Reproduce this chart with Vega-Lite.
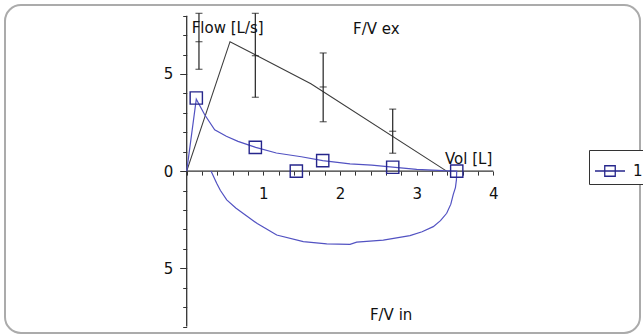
{
  "$schema": "https://vega.github.io/schema/vega-lite/v6.json",
  "width": 635,
  "height": 328,
  "autosize": {"type": "none"},
  "padding": {"left": 5, "top": 5, "right": 3, "bottom": 2},
  "background": "white",
  "config": {
    "view": {"stroke": "#ababab", "strokeWidth": 2, "cornerRadius": 16},
    "axis": {"grid": false, "domain": false, "title": null, "labelFont": "DejaVu Sans", "labelFontSize": 15, "labelColor": "#111111", "tickColor": "#333333", "tickWidth": 1, "labelOverlap": false, "labelBound": false, "labelFlush": false}
  },
  "datasets": {
    "axes": [
      {"x": 0, "x2": 4, "y": 0, "y2": 0},
      {"x": 0, "x2": 0, "y": -8, "y2": 8}
    ],
    "pred": [
      {"i": 0, "x": 0, "y": 0},
      {"i": 1, "x": 0.565, "y": 6.66},
      {"i": 2, "x": 1.62, "y": 4.5},
      {"i": 3, "x": 3.39, "y": 0}
    ],
    "err": [
      {"x": 0.16, "y": 5.24, "y2": 8.12},
      {"x": 0.895, "y": 3.8, "y2": 8.12},
      {"x": 1.78, "y": 2.54, "y2": 6.08},
      {"x": 2.687, "y": 0.92, "y2": 3.19}
    ],
    "errticks": [
      {"x": 0.16, "y": 5.24}, {"x": 0.16, "y": 6.66}, {"x": 0.16, "y": 8.12},
      {"x": 0.895, "y": 3.8}, {"x": 0.895, "y": 5.94}, {"x": 0.895, "y": 8.12},
      {"x": 1.78, "y": 2.54}, {"x": 1.78, "y": 4.33}, {"x": 1.78, "y": 6.08},
      {"x": 2.687, "y": 0.92}, {"x": 2.687, "y": 2.05}, {"x": 2.687, "y": 3.19}
    ],
    "flow": [
      {"i": 0, "x": 0, "y": 0},
      {"i": 1, "x": 0.125, "y": 3.7},
      {"i": 2, "x": 0.235, "y": 2.9},
      {"i": 3, "x": 0.365, "y": 2.13},
      {"i": 4, "x": 0.517, "y": 1.79},
      {"i": 5, "x": 0.669, "y": 1.53},
      {"i": 6, "x": 0.9, "y": 1.22},
      {"i": 7, "x": 1.169, "y": 0.93},
      {"i": 8, "x": 1.495, "y": 0.74},
      {"i": 9, "x": 1.774, "y": 0.54},
      {"i": 10, "x": 2.13, "y": 0.37},
      {"i": 11, "x": 2.413, "y": 0.31},
      {"i": 12, "x": 2.687, "y": 0.2},
      {"i": 13, "x": 3.0, "y": 0.09},
      {"i": 14, "x": 3.347, "y": 0.02},
      {"i": 15, "x": 3.522, "y": 0},
      {"i": 16, "x": 3.518, "y": -0.45},
      {"i": 17, "x": 3.505, "y": -0.85},
      {"i": 18, "x": 3.477, "y": -1.2},
      {"i": 19, "x": 3.445, "y": -1.7},
      {"i": 20, "x": 3.391, "y": -2.17},
      {"i": 21, "x": 3.31, "y": -2.55},
      {"i": 22, "x": 3.216, "y": -2.86},
      {"i": 23, "x": 3.07, "y": -3.12},
      {"i": 24, "x": 2.912, "y": -3.32},
      {"i": 25, "x": 2.564, "y": -3.55},
      {"i": 26, "x": 2.217, "y": -3.66},
      {"i": 27, "x": 2.13, "y": -3.77},
      {"i": 28, "x": 1.826, "y": -3.75},
      {"i": 29, "x": 1.521, "y": -3.63},
      {"i": 30, "x": 1.174, "y": -3.29},
      {"i": 31, "x": 1.064, "y": -3.03},
      {"i": 32, "x": 0.92, "y": -2.7},
      {"i": 33, "x": 0.783, "y": -2.31},
      {"i": 34, "x": 0.64, "y": -1.9},
      {"i": 35, "x": 0.522, "y": -1.48},
      {"i": 36, "x": 0.44, "y": -1.0},
      {"i": 37, "x": 0.391, "y": -0.63},
      {"i": 38, "x": 0.317, "y": 0}
    ],
    "markers": [
      {"series": "1", "x": 0.125, "y": 3.76},
      {"series": "1", "x": 0.895, "y": 1.22},
      {"series": "1", "x": 1.43, "y": 0},
      {"series": "1", "x": 1.774, "y": 0.54},
      {"series": "1", "x": 2.687, "y": 0.2},
      {"series": "1", "x": 3.522, "y": 0}
    ],
    "texts": [
      {"label": "Flow [L/s]", "x": 0.065, "y": 7.09},
      {"label": "F/V ex", "x": 2.17, "y": 7.06},
      {"label": "Vol [L]", "x": 3.369, "y": 0.365},
      {"label": "F/V in", "x": 2.39, "y": -7.66}
    ]
  },
  "encoding": {
    "x": {
      "field": "x", "type": "quantitative",
      "scale": {"domain": [-2.3699, 5.9124], "nice": false, "zero": false},
      "axis": {
        "orient": "bottom", "offset": -161.9,
        "values": [0, 0.2, 0.4, 0.6, 0.8, 1, 1.2, 1.4, 1.6, 1.8, 2, 2.2, 2.4, 2.6, 2.8, 3, 3.2, 3.4, 3.6, 3.8, 4],
        "tickSize": 4, "labelPadding": 11,
        "labelExpr": "(datum.value == 1 || datum.value == 2 || datum.value == 3 || datum.value == 4) ? format(datum.value, 'd') : ''"
      }
    },
    "y": {
      "field": "y", "type": "quantitative",
      "scale": {"domain": [-8.3325, 8.5486], "nice": false, "zero": false},
      "axis": {
        "orient": "left", "offset": -181.7,
        "values": [-8, -7, -6, -5, -4, -3, -2, -1, 0, 1, 2, 3, 4, 5, 6, 7, 8],
        "tickSize": {"condition": {"test": "datum.value == 5 || datum.value == -5 || datum.value == 0", "value": 7}, "value": 4},
        "labelPadding": 7,
        "labelExpr": "(datum.value == 5 || datum.value == -5 || datum.value == 0) ? format(abs(datum.value), 'd') : ''"
      }
    }
  },
  "layer": [
    {
      "data": {"name": "axes"},
      "mark": {"type": "rule", "color": "#333333", "strokeWidth": 1.3},
      "encoding": {"x2": {"field": "x2"}, "y2": {"field": "y2"}}
    },
    {
      "data": {"name": "pred"},
      "mark": {"type": "line", "color": "#3c3c3c", "strokeWidth": 1.1},
      "encoding": {"order": {"field": "i", "type": "quantitative"}}
    },
    {
      "data": {"name": "err"},
      "mark": {"type": "rule", "color": "#222222", "strokeWidth": 1.2},
      "encoding": {"y2": {"field": "y2"}}
    },
    {
      "data": {"name": "errticks"},
      "mark": {"type": "tick", "orient": "horizontal", "color": "#222222", "size": 7, "thickness": 1.2}
    },
    {
      "data": {"name": "flow"},
      "mark": {"type": "line", "color": "#5252c2", "strokeWidth": 1.2},
      "encoding": {"order": {"field": "i", "type": "quantitative"}}
    },
    {
      "data": {"name": "markers"},
      "mark": {"type": "point", "shape": "square", "filled": false, "size": 150, "strokeWidth": 1.4, "opacity": 1},
      "encoding": {
        "color": {
          "field": "series", "type": "nominal",
          "scale": {"range": ["#26268c"]},
          "legend": {
            "title": null, "orient": "none", "legendX": 584, "legendY": 145,
            "strokeColor": "#333333", "fillColor": "white", "padding": 5,
            "symbolType": "M-1,0L1,0M-0.35,-0.35L0.35,-0.35L0.35,0.35L-0.35,0.35Z",
            "symbolSize": 900, "symbolStrokeWidth": 1.3, "symbolFillColor": "transparent", "symbolStrokeColor": "#26268c",
            "labelFont": "DejaVu Sans", "labelFontSize": 15, "labelColor": "#111111", "labelOffset": 7
          }
        }
      }
    },
    {
      "data": {"name": "texts"},
      "mark": {"type": "text", "align": "left", "baseline": "alphabetic", "font": "DejaVu Sans", "fontSize": 15, "color": "#111111"},
      "encoding": {"text": {"field": "label"}}
    }
  ]
}
